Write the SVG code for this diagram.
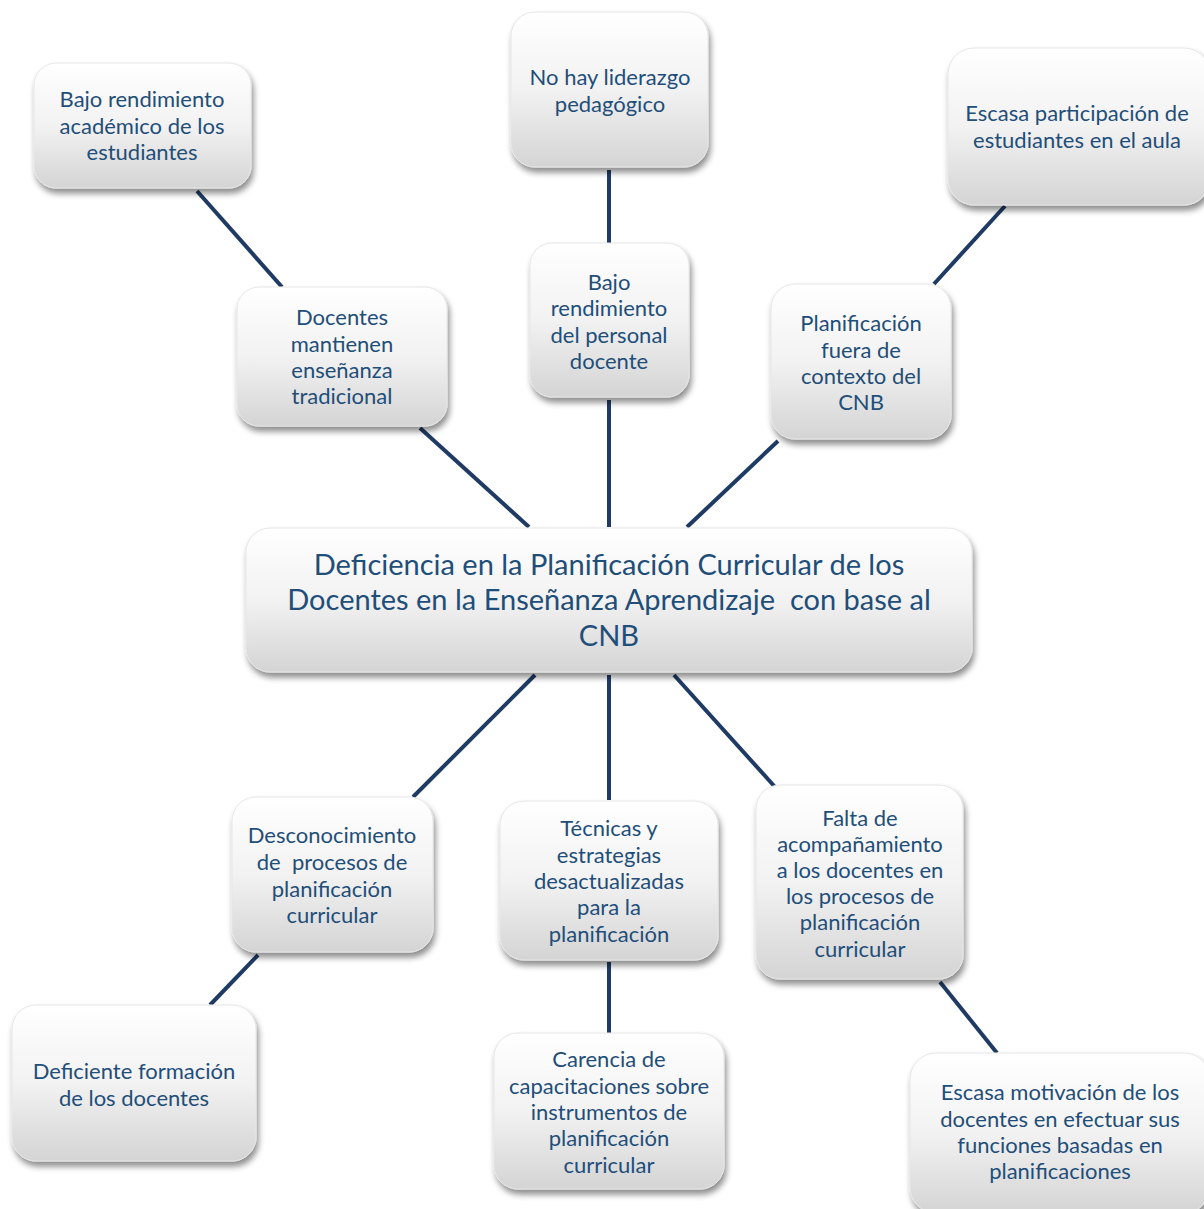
<svg xmlns="http://www.w3.org/2000/svg" width="1204" height="1209" viewBox="0 0 1204 1209">
<defs>
<linearGradient id="g" x1="0" y1="0" x2="0" y2="1">
<stop offset="0" stop-color="#ffffff"/>
<stop offset="0.5" stop-color="#f2f2f2"/>
<stop offset="1" stop-color="#d4d4d4"/>
</linearGradient>
<filter id="sh" x="-10%" y="-10%" width="125%" height="130%">
<feGaussianBlur in="SourceAlpha" stdDeviation="3"/>
<feOffset dx="2" dy="5" result="b"/>
<feComponentTransfer><feFuncA type="linear" slope="0.45"/></feComponentTransfer>
<feMerge><feMergeNode/><feMergeNode in="SourceGraphic"/></feMerge>
</filter>
</defs>
<style>
.box{fill:url(#g);stroke:#e6e6e6;stroke-width:1;filter:url(#sh)}
.t{font-family:Lato,"Open Sans",sans-serif;font-size:22px;fill:#1f4e79;text-anchor:middle}
.big{font-size:29px}
.c{stroke:#1f3b63;stroke-width:4;fill:none}
</style>
<g id="connectors">
<line class="c" x1="197" y1="191" x2="282" y2="287"/>
<line class="c" x1="609" y1="170" x2="609" y2="243"/>
<line class="c" x1="1005" y1="206" x2="934" y2="284"/>
<line class="c" x1="420" y1="428" x2="529" y2="527"/>
<line class="c" x1="609" y1="400" x2="609" y2="527"/>
<line class="c" x1="778" y1="441" x2="687" y2="527"/>
<line class="c" x1="535" y1="675" x2="413" y2="797"/>
<line class="c" x1="609" y1="675" x2="609" y2="800"/>
<line class="c" x1="674" y1="675" x2="775" y2="787"/>
<line class="c" x1="258" y1="955" x2="210" y2="1005"/>
<line class="c" x1="609" y1="962" x2="609" y2="1033"/>
<line class="c" x1="940" y1="982" x2="997" y2="1053"/>
</g>
<g id="n1"><rect class="box" x="34" y="63" width="217" height="125" rx="22"/>
<text class="t" x="142"><tspan x="142" y="107">Bajo rendimiento</tspan><tspan x="142" y="134">académico de los</tspan><tspan x="142" y="160">estudiantes</tspan></text></g>
<g id="n2"><rect class="box" x="511" y="12" width="197" height="155" rx="24"/>
<text class="t"><tspan x="610" y="85">No hay liderazgo</tspan><tspan x="610" y="112">pedagógico</tspan></text></g>
<g id="n3"><rect class="box" x="948" y="48" width="262" height="157" rx="26"/>
<text class="t"><tspan x="1077" y="121">Escasa participación de</tspan><tspan x="1077" y="148">estudiantes en el aula</tspan></text></g>
<g id="n4"><rect class="box" x="237" y="287" width="210" height="139" rx="22"/>
<text class="t"><tspan x="342" y="325">Docentes</tspan><tspan x="342" y="352">mantienen</tspan><tspan x="342" y="378">enseñanza</tspan><tspan x="342" y="404">tradicional</tspan></text></g>
<g id="n5"><rect class="box" x="530" y="243" width="159" height="154" rx="22"/>
<text class="t"><tspan x="609" y="290">Bajo</tspan><tspan x="609" y="316">rendimiento</tspan><tspan x="609" y="343">del personal</tspan><tspan x="609" y="369">docente</tspan></text></g>
<g id="n6"><rect class="box" x="771" y="284" width="180" height="155" rx="24"/>
<text class="t"><tspan x="861" y="331">Planificación</tspan><tspan x="861" y="358">fuera de</tspan><tspan x="861" y="384">contexto del</tspan><tspan x="861" y="410">CNB</tspan></text></g>
<g id="n7"><rect class="box" x="246" y="528" width="726" height="144" rx="24"/>
<text class="t big" xml:space="preserve"><tspan x="609" y="575">Deficiencia en la Planificación Curricular de los</tspan><tspan x="609" y="610">Docentes en la Enseñanza Aprendizaje  con base al</tspan><tspan x="609" y="646">CNB</tspan></text></g>
<g id="n8"><rect class="box" x="232" y="797" width="201" height="155" rx="24"/>
<text class="t" xml:space="preserve"><tspan x="332" y="843">Desconocimiento</tspan><tspan x="332" y="870">de  procesos de</tspan><tspan x="332" y="897">planificación</tspan><tspan x="332" y="923">curricular</tspan></text></g>
<g id="n9"><rect class="box" x="500" y="801" width="218" height="159" rx="24"/>
<text class="t"><tspan x="609" y="836">Técnicas y</tspan><tspan x="609" y="863">estrategias</tspan><tspan x="609" y="889">desactualizadas</tspan><tspan x="609" y="915">para la</tspan><tspan x="609" y="942">planificación</tspan></text></g>
<g id="n10"><rect class="box" x="756" y="785" width="207" height="194" rx="24"/>
<text class="t"><tspan x="860" y="826">Falta de</tspan><tspan x="860" y="852">acompañamiento</tspan><tspan x="860" y="878">a los docentes en</tspan><tspan x="860" y="904">los procesos de</tspan><tspan x="860" y="930">planificación</tspan><tspan x="860" y="957">curricular</tspan></text></g>
<g id="n11"><rect class="box" x="12" y="1005" width="244" height="156" rx="24"/>
<text class="t"><tspan x="134" y="1079">Deficiente formación</tspan><tspan x="134" y="1106">de los docentes</tspan></text></g>
<g id="n12"><rect class="box" x="494" y="1033" width="230" height="156" rx="24"/>
<text class="t"><tspan x="609" y="1067">Carencia de</tspan><tspan x="609" y="1094">capacitaciones sobre</tspan><tspan x="609" y="1120">instrumentos de</tspan><tspan x="609" y="1146">planificación</tspan><tspan x="609" y="1173">curricular</tspan></text></g>
<g id="n13"><rect class="box" x="910" y="1053" width="300" height="160" rx="26"/>
<text class="t"><tspan x="1060" y="1100">Escasa motivación de los</tspan><tspan x="1060" y="1127">docentes en efectuar sus</tspan><tspan x="1060" y="1153">funciones basadas en</tspan><tspan x="1060" y="1179">planificaciones</tspan></text></g>
</svg>
